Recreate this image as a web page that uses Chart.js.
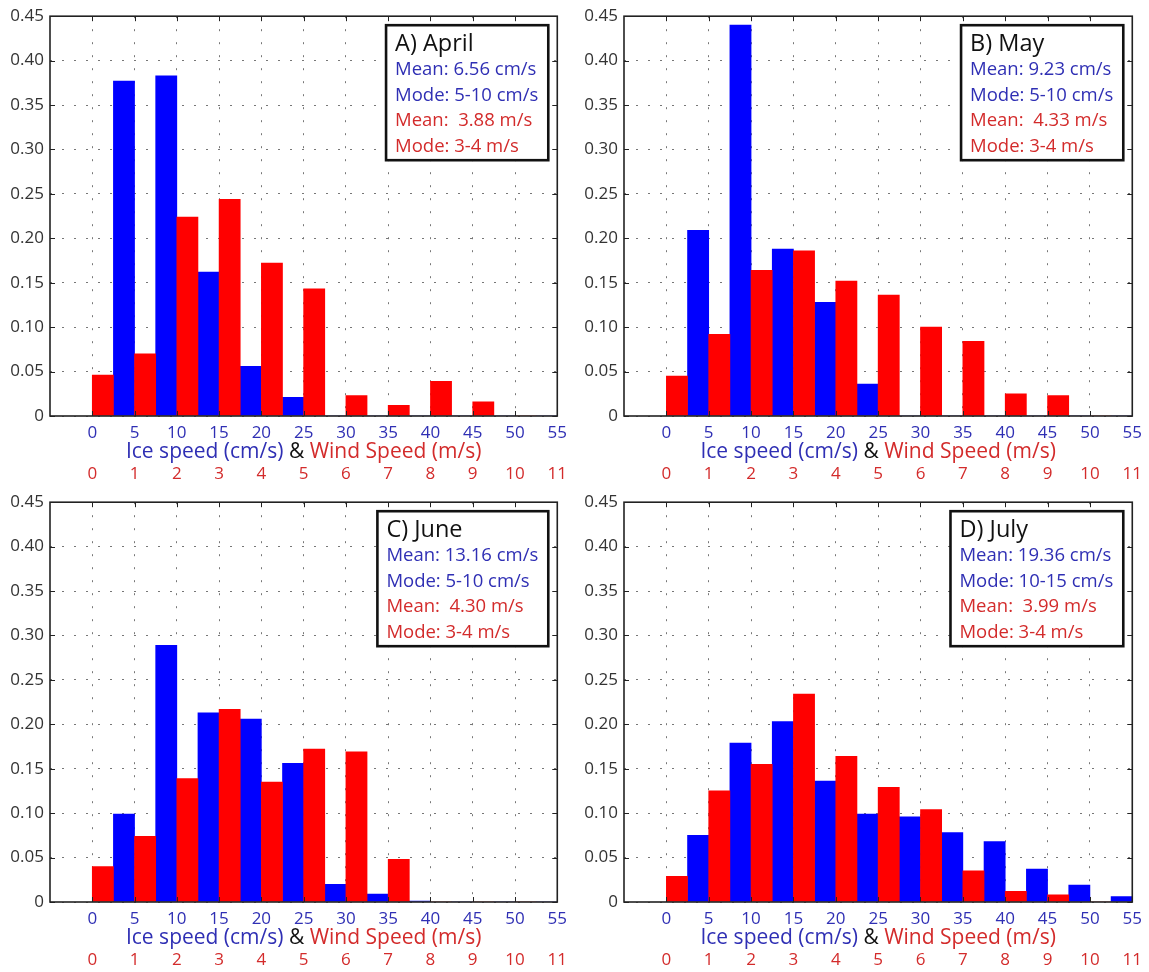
<!DOCTYPE html>
<html>
<head>
<meta charset="utf-8">
<title>Ice speed &amp; wind speed histograms</title>
<script src="https://cdn.jsdelivr.net/npm/chart.js@4.4.1/dist/chart.umd.min.js"></script>
<style>
  html, body { margin: 0; padding: 0; background: #fff; }
  #wrap { position: relative; width: 1149px; height: 972px; }
  .panel { position: absolute; }
</style>
</head>
<body>
<div id="wrap">
  <div class="panel" style="left:0;top:0"><canvas id="c0" width="574" height="486"></canvas></div>
  <div class="panel" style="left:574px;top:0"><canvas id="c1" width="575" height="486"></canvas></div>
  <div class="panel" style="left:0;top:486px"><canvas id="c2" width="574" height="486"></canvas></div>
  <div class="panel" style="left:574px;top:486px"><canvas id="c3" width="575" height="486"></canvas></div>
</div>
<script>
// tick labels
var iceTicks  = [0, 5, 10, 15, 20, 25, 30, 35, 40, 45, 50, 55];
var windTicks = [0, 1, 2, 3, 4, 5, 6, 7, 8, 9, 10, 11];
var freqTicks = [0, 0.05, 0.10, 0.15, 0.20, 0.25, 0.30, 0.35, 0.40, 0.45];

// panel headings and statistics
var months   = ['A) April', 'B) May', 'C) June', 'D) July'];
var iceMean  = ['6.56', '9.23', '13.16', '19.36'];
var iceMode  = ['5-10', '5-10', '5-10', '10-15'];
var windMean = ['3.88', '4.33', '4.30', '3.99'];
var windMode = ['3-4', '3-4', '3-4', '3-4'];

// relative frequency, wind bins 0-1 ... 10-11 m/s
var windApril = [0.046, 0.070, 0.224, 0.244, 0.172, 0.143, 0.023, 0.012, 0.039, 0.016, 0];
var windMay   = [0.045, 0.092, 0.164, 0.186, 0.152, 0.136, 0.100, 0.084, 0.025, 0.023, 0];
var windJune  = [0.040, 0.074, 0.139, 0.217, 0.135, 0.172, 0.169, 0.048, 0, 0, 0];
var windJuly  = [0.029, 0.125, 0.155, 0.234, 0.164, 0.129, 0.104, 0.035, 0.012, 0.008, 0];

// relative frequency, ice bins 0-5 ... 50-55 cm/s
var iceApril = [0.377, 0.383, 0.162, 0.056, 0.021, 0, 0, 0, 0, 0, 0];
var iceMay   = [0.209, 0.440, 0.188, 0.128, 0.036, 0, 0, 0, 0, 0, 0];
var iceJune  = [0.099, 0.289, 0.213, 0.206, 0.156, 0.020, 0.009, 0.001, 0, 0, 0];
var iceJuly  = [0.075, 0.179, 0.203, 0.136, 0.099, 0.096, 0.078, 0.068, 0.037, 0.019, 0.006];

var BLUE = '#0000ff', RED = '#ff0000';
var BLUE_TXT = '#2f2fb4', RED_TXT = '#d32b2b';
var FONT = '"Open Sans", "DejaVu Sans", sans-serif';

// wind bar sits in the first half of each 5-unit slot, ice bar in the second half
function barPoints(vals, shift) {
    return vals.map(function (v, k) { return { x: iceTicks[k] + shift, y: v }; });
}

function line(ctx, x1, y1, x2, y2) {
    ctx.beginPath(); ctx.moveTo(x1, y1); ctx.lineTo(x2, y2); ctx.stroke();
}

/* box, inner tick marks, stats box and two-colour axis title */
var framePlugin = {
    id: 'frame',
    afterDatasetsDraw: function (chart, args, opts) {
        var ctx = chart.ctx, a = chart.chartArea;
        var x = chart.scales.x, y = chart.scales.y;
        ctx.save();

        ctx.strokeStyle = '#222';
        ctx.lineWidth = 1;
        iceTicks.forEach(function (v) {
            var px = Math.round(x.getPixelForValue(v)) + 0.5;
            line(ctx, px, a.bottom, px, a.bottom - 5);
            line(ctx, px, a.top, px, a.top + 5);
        });
        freqTicks.forEach(function (v) {
            var py = Math.round(y.getPixelForValue(v)) + 0.5;
            line(ctx, a.left, py, a.left + 5, py);
            line(ctx, a.right, py, a.right - 5, py);
        });
        ctx.lineWidth = 1.6;
        ctx.strokeRect(a.left, a.top, a.right - a.left, a.bottom - a.top);

        // stats box
        ctx.font = '18.5px ' + FONT;
        var w = 0;
        opts.lines.forEach(function (l) { w = Math.max(w, ctx.measureText(l.text).width); });
        var bw = w + 19, bh = 135;
        var bx = a.right - 9 - bw, by = a.top + 9;
        ctx.fillStyle = '#fff';
        ctx.fillRect(bx, by, bw, bh);
        ctx.lineWidth = 2.6;
        ctx.strokeStyle = '#111';
        ctx.strokeRect(bx, by, bw, bh);
        ctx.textBaseline = 'middle';
        ctx.textAlign = 'left';
        ctx.fillStyle = '#111';
        ctx.font = '23.5px ' + FONT;
        ctx.fillText(opts.heading, bx + 9, by + 19);
        ctx.font = '18.5px ' + FONT;
        opts.lines.forEach(function (l, i) {
            ctx.fillStyle = l.color;
            ctx.fillText(l.text, bx + 9, by + 45 + i * 25.5);
        });

        // x title: ice part in blue, wind part in red
        var parts = [
            { t: 'Ice speed (cm/s)', c: BLUE_TXT },
            { t: ' & ', c: '#111' },
            { t: 'Wind Speed (m/s)', c: RED_TXT }
        ];
        ctx.font = '21px ' + FONT;
        var total = 0;
        parts.forEach(function (p) { p.w = ctx.measureText(p.t).width; total += p.w; });
        var tx = (a.left + a.right) / 2 - total / 2, ty = a.bottom + 36;
        parts.forEach(function (p) {
            ctx.fillStyle = p.c;
            ctx.fillText(p.t, tx, ty);
            tx += p.w;
        });
        ctx.restore();
    }
};

function makePanel(id, idx, wind, ice) {
    var lines = [
        { text: 'Mean: ' + iceMean[idx] + ' cm/s', color: BLUE_TXT },
        { text: 'Mode: ' + iceMode[idx] + ' cm/s', color: BLUE_TXT },
        { text: 'Mean:  ' + windMean[idx] + ' m/s', color: RED_TXT },
        { text: 'Mode: ' + windMode[idx] + ' m/s', color: RED_TXT }
    ];
    var canvas = document.getElementById(id);
    return new Chart(canvas, {
        type: 'bar',
        data: {
            datasets: [
                { label: 'Wind Speed (m/s)', data: barPoints(wind, 1.25), backgroundColor: RED,
                  grouped: false, barPercentage: 1, categoryPercentage: 1, borderWidth: 0 },
                { label: 'Ice speed (cm/s)', data: barPoints(ice, 3.75), backgroundColor: BLUE,
                  grouped: false, barPercentage: 1, categoryPercentage: 1, borderWidth: 0 }
            ]
        },
        options: {
            responsive: false,
            animation: false,
            layout: { padding: { top: 13, right: canvas.width - 50 - 511, bottom: 0, left: 0 } },
            plugins: {
                legend: { display: false },
                tooltip: { enabled: false },
                frame: { heading: months[idx], lines: lines }
            },
            scales: {
                x: {
                    type: 'linear', position: 'bottom', weight: 0,
                    min: -5, max: 55, offset: false,
                    afterBuildTicks: function (s) { s.ticks = iceTicks.map(function (v) { return { value: v }; }); },
                    afterFit: function (s) { s.height = 48; },
                    ticks: { color: BLUE_TXT, font: { family: FONT, size: 17 }, padding: 7,
                             maxRotation: 0, autoSkip: false,
                             callback: function (v) { return String(v); } },
                    grid: { color: '#777', lineWidth: 1, drawTicks: false, offset: false },
                    border: { display: false, dash: [2, 11] }
                },
                x2: {
                    type: 'linear', position: 'bottom', weight: 1,
                    min: -5, max: 55, offset: false,
                    afterBuildTicks: function (s) { s.ticks = iceTicks.map(function (v) { return { value: v }; }); },
                    afterFit: function (s) { s.height = 22; },
                    ticks: { color: RED_TXT, font: { family: FONT, size: 17 }, padding: 0,
                             maxRotation: 0, autoSkip: false,
                             callback: function (v, i) { return String(windTicks[i]); } },
                    grid: { display: false, drawTicks: false },
                    border: { display: false }
                },
                y: {
                    type: 'linear', min: 0, max: 0.45,
                    afterBuildTicks: function (s) { s.ticks = freqTicks.map(function (v) { return { value: v }; }); },
                    afterFit: function (s) { s.width = 50; },
                    ticks: { color: '#333', font: { family: FONT, size: 17 }, padding: 6,
                             callback: function (v) { return v === 0 ? '0' : v.toFixed(2); } },
                    grid: { color: '#777', lineWidth: 1, drawTicks: false },
                    border: { display: false, dash: [2, 10] }
                }
            }
        },
        plugins: [framePlugin]
    });
}

makePanel('c0', 0, windApril, iceApril);
makePanel('c1', 1, windMay, iceMay);
makePanel('c2', 2, windJune, iceJune);
makePanel('c3', 3, windJuly, iceJuly);
</script>
</body>
</html>
